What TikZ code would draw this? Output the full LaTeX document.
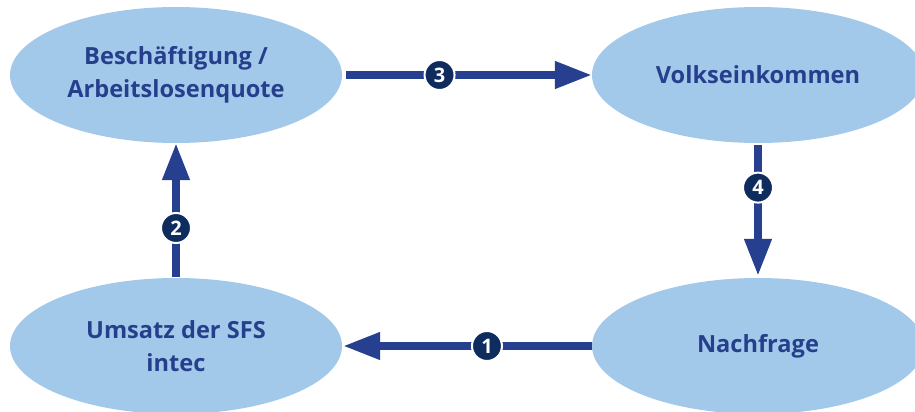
\documentclass[tikz,border=0pt]{standalone}
\usepackage{fontspec}
\setmainfont{Open Sans}
\usetikzlibrary{shapes.geometric,arrows.meta}
\definecolor{ellfill}{HTML}{A3C9EA}
\definecolor{txtblue}{HTML}{263F8C}
\definecolor{arrblue}{HTML}{263F8F}
\definecolor{badgeblue}{HTML}{0E2D5E}
\tikzset{
  ell/.style={ellipse, fill=ellfill, minimum width=332pt, minimum height=136pt, inner sep=0pt,
    text=txtblue, font=\bfseries\fontsize{23.6}{33}\selectfont, align=center},
  flow/.style={draw=arrblue, line width=7.5pt, -{Triangle[length=37pt,width=26pt]}},
  badge/.style={circle, fill=badgeblue, draw=white, line width=2pt, minimum size=30pt, inner sep=0pt,
    text=white, font=\bfseries\fontsize{20}{20}\selectfont}
}
\begin{document}
\begin{tikzpicture}[x=1pt,y=-1pt]
\path[use as bounding box, clip] (0,0) rectangle (915,412);
\node[ell] (tl) at (176,75) {Beschäftigung /\\Arbeitslosenquote};
\node[ell] (tr) at (758,75) {Volkseinkommen};
\node[ell] (bl) at (176,346) {Umsatz der SFS\\intec};
\node[ell] (br) at (758,346) {Nachfrage};
\draw[flow, shorten <=4pt] (tl) -- node[badge, pos=0.39] {3} (tr);
\draw[flow, shorten <=2pt, shorten >=2pt] (tr) -- node[badge, pos=0.33] {4} (br);
\draw[flow, shorten <=1pt] (bl) -- node[badge, pos=0.37] {2} (tl);
\draw[flow, shorten >=1pt] (br) -- node[badge, pos=0.42] {1} (bl);
\end{tikzpicture}
\end{document}
